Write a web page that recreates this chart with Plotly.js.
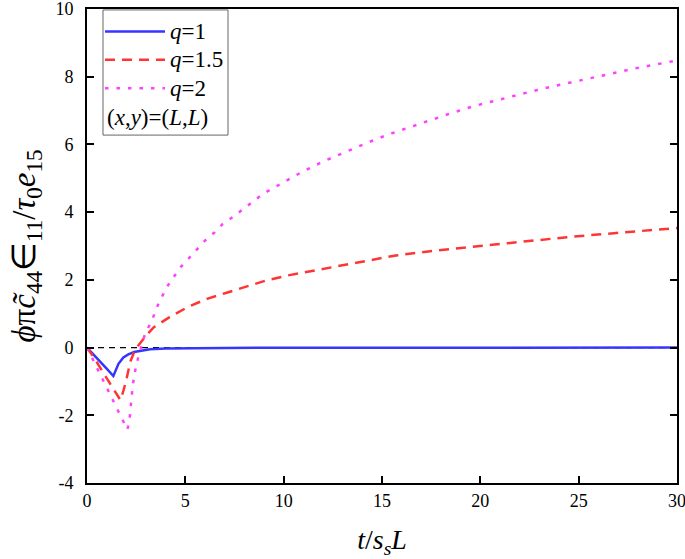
<!DOCTYPE html>
<html>
<head>
<meta charset="utf-8">
<script src="https://cdn.plot.ly/plotly-3.0.1.min.js"></script>
<style>html,body{margin:0;padding:0;background:#fff;}#chart{width:685px;height:559px;}</style>
</head>
<body>
<div id="chart"></div>
<script>
// q = 1 (blue solid)
const xQ1 = [0, 0.3, 0.7, 1.0, 1.34, 1.45, 1.6, 1.85, 2.1, 2.4, 2.8, 3.2, 4, 5, 7, 10, 15, 20, 25, 30];
const yQ1 = [0, -0.18, -0.42, -0.62, -0.84, -0.68, -0.48, -0.29, -0.2, -0.13, -0.08, -0.05, -0.03, -0.02, -0.01, -0.005, 0, 0, 0, 0];
// q = 1.5 (red dashed)
const xQ15 = [0, 0.4, 0.8, 1.2, 1.5, 1.7, 1.85, 2.0, 2.2, 2.45, 2.7, 3.0, 3.4, 4.2, 5.1, 6.1, 7.1, 8.1, 9.1, 10.2, 11.7, 13.7, 15.7, 17.8, 20, 22, 24.4, 26.8, 30];
const yQ15 = [0, -0.34, -0.72, -1.1, -1.38, -1.55, -1.28, -0.95, -0.42, -0.06, 0.13, 0.35, 0.6, 0.9, 1.19, 1.44, 1.62, 1.8, 1.98, 2.13, 2.29, 2.52, 2.72, 2.87, 3.0, 3.13, 3.26, 3.38, 3.53];
// q = 2 (magenta dotted)
const xQ2 = [0, 0.3, 0.8, 1.3, 1.7, 2.05, 2.15, 2.25, 2.33, 2.45, 2.6, 2.8, 2.95, 3.3, 3.6, 4.05, 4.4, 4.75, 5.15, 5.6, 6.0, 6.5, 6.9, 7.45, 7.95, 8.45, 8.95, 9.5, 10, 11, 12.1, 13.2, 14.3, 15.3, 16.4, 17.4, 18.5, 19.6, 21.3, 22.9, 24.6, 26.2, 27.9, 30];
const yQ2 = [0, -0.35, -0.94, -1.53, -2.0, -2.42, -2.2, -1.6, -1.1, -0.68, -0.3, 0.1, 0.4, 0.8, 1.25, 1.78, 2.08, 2.37, 2.62, 2.91, 3.16, 3.41, 3.65, 3.87, 4.10, 4.32, 4.54, 4.72, 4.88, 5.21, 5.52, 5.80, 6.06, 6.29, 6.51, 6.70, 6.92, 7.12, 7.37, 7.61, 7.83, 8.04, 8.25, 8.48];

const xTickVals = [0, 5, 10, 15, 20, 25, 30];
const xTickText = ['0', '5', '10', '15', '20', '25', '30'];
const yTickVals = [-4, -2, 0, 2, 4, 6, 8, 10];
const yTickText = ['-4', '-2', '0', '2', '4', '6', '8', '10'];
const seriesNames = ['<i>q</i>=1', '<i>q</i>=1.5', '<i>q</i>=2'];
const noteText = '(<i>x</i>,<i>y</i>)=(<i>L</i>,<i>L</i>)';

const FONT = 'Liberation Serif, Times New Roman, serif';
const big = s => '<span style="font-size:23px">' + s + '</span>';

const traces = [
  {x: xQ1, y: yQ1, name: big(seriesNames[0]), mode: 'lines', line: {color: '#3535ff', width: 2.5}},
  {x: xQ15, y: yQ15, name: big(seriesNames[1]), mode: 'lines', line: {color: '#ff3535', width: 2.5, dash: '10px,7px'}},
  {x: xQ2, y: yQ2, name: big(seriesNames[2]), mode: 'lines', line: {color: '#ff40ff', width: 2.5, dash: '3.5px,8px'}}
];

const layout = {
  width: 685, height: 559,
  margin: {l: 87, r: 8, t: 9, b: 76},
  paper_bgcolor: '#fff', plot_bgcolor: '#fff',
  font: {family: FONT, color: '#000', size: 18},
  showlegend: true,
  legend: {
    x: 0.022, y: 0.993, xanchor: 'left', yanchor: 'top',
    bgcolor: 'rgba(0,0,0,0)', borderwidth: 0,
    font: {family: FONT, size: 19.5, color: '#000'},
    itemwidth: 60, tracegroupgap: 0
  },
  xaxis: {
    range: [0, 30], tickmode: 'array', tickvals: xTickVals, ticktext: xTickText,
    ticks: 'inside', ticklen: 7, tickwidth: 2, tickcolor: '#000',
    showline: true, linewidth: 2, linecolor: '#000', mirror: true,
    showgrid: false, zeroline: false, ticklabeloverflow: 'allow',
    tickfont: {family: FONT, size: 18},
    title: {text: '<i>t</i>/<i>s</i><sub><i>s</i></sub><i>L</i>', font: {family: FONT, size: 28}, standoff: 24}
  },
  yaxis: {
    range: [-4, 10], tickmode: 'array', tickvals: yTickVals, ticktext: yTickText,
    ticks: 'inside', ticklen: 7, tickwidth: 2, tickcolor: '#000',
    showline: true, linewidth: 2, linecolor: '#000', mirror: 'ticks',
    showgrid: false, zeroline: false, ticklabeloverflow: 'allow',
    ticklabelstandoff: 8,
    tickfont: {family: FONT, size: 18},
    title: {text: '<i>ϕ</i>π<i>c̃</i><sub>44</sub>∈<sub>11</sub>/<i>τ</i><sub>0</sub><i>e</i><sub>15</sub>', font: {family: FONT, size: 33}, standoff: 10}
  },
  shapes: [
    {type: 'line', xref: 'x', yref: 'y', x0: 0, x1: 30, y0: 0, y1: 0, layer: 'below', line: {color: '#000', width: 1.2, dash: '6px,5px'}},
    {type: 'rect', xref: 'paper', yref: 'paper', x0: 0.0271, x1: 0.239, y0: 0.734, y1: 0.998, line: {color: '#666', width: 1}}
  ],
  annotations: [
    {xref: 'paper', yref: 'paper', x: 0.03, y: 0.772, xanchor: 'left', yanchor: 'middle', text: noteText, showarrow: false, font: {family: FONT, size: 23, color: '#000'}}
  ]
};

Plotly.newPlot('chart', traces, layout, {displayModeBar: false, staticPlot: true});
</script>
</body>
</html>
